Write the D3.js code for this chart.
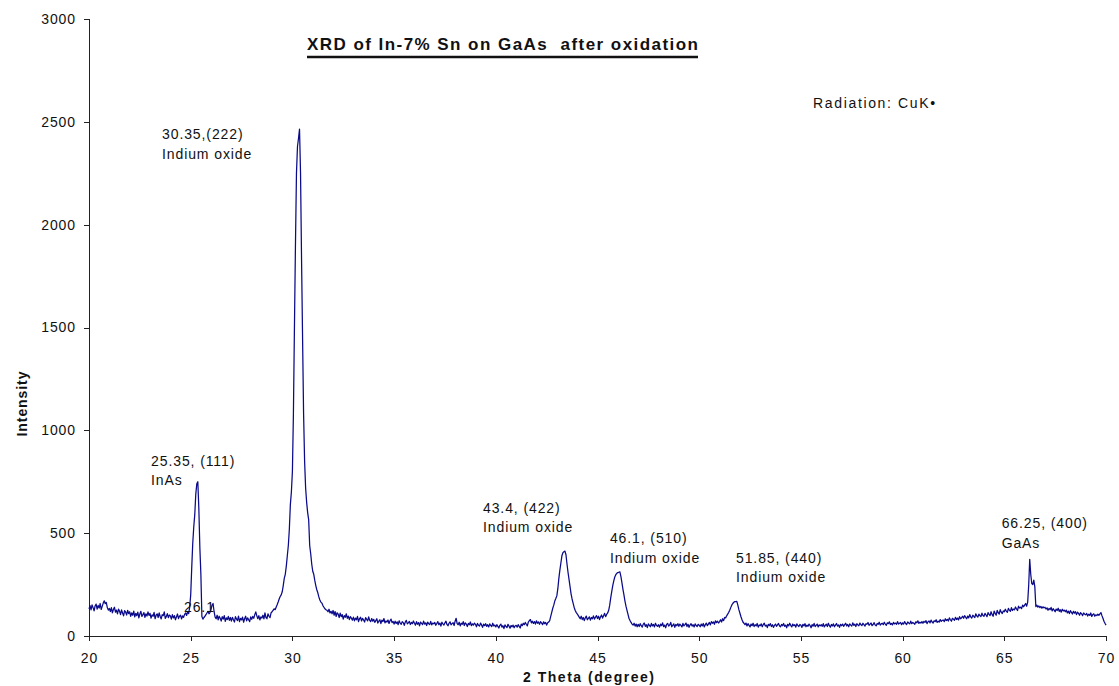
<!DOCTYPE html>
<html>
<head>
<meta charset="utf-8">
<script src="https://cdn.jsdelivr.net/npm/d3@7"></script>
<style>
  html, body { margin: 0; padding: 0; background: #fff; }
  svg { display: block; font-family: "Liberation Sans", Arial, sans-serif; }
</style>
</head>
<body>
<svg id="chart" width="1119" height="686"></svg>
<script>
// XRD scan: 2-theta from 20 to 70 degrees, one reading every 0.05 degree
const thetaStart = 20;
const thetaStep = 0.05;

// Counts, one row per degree (20 readings each), last value at 70.00
const intensity = [
  132,148,127,151,138,122,146,155,131,149,136,158,129,144,160,171,157,163,138,126, // 20
  134,119,138,113,129,140,116,126,108,131,121,104,127,112,98,123,117,102,125,109,  // 21
  118,96,112,101,121,93,110,99,116,88,107,120,95,104,114,91,108,97,117,100,        // 22
  110,87,103,96,115,84,101,108,90,112,95,83,104,99,117,86,94,109,89,102,           // 23
  97,82,104,88,99,79,93,107,85,96,101,83,98,91,105,112,100,118,109,140,            // 24
  200,330,450,530,590,690,740,750,620,430,300,95,82,90,96,104,112,120,108,115,     // 25
  130,150,158,118,92,84,101,78,96,86,73,94,82,99,71,88,80,95,76,90,                // 26
  72,91,79,68,94,83,75,97,70,86,78,92,67,84,96,74,88,79,70,93,                     // 27
  81,95,86,104,117,98,84,99,78,93,87,101,83,112,90,84,108,96,89,112,               // 28
  118,125,132,128,140,152,165,180,192,200,215,245,280,300,340,390,440,520,640,700, // 29
  800,1080,1500,1900,2250,2380,2420,2465,2250,1830,1450,1080,850,720,650,600,565,440,400,350, // 30
  315,300,270,245,225,210,190,175,165,160,148,140,132,128,125,118,130,112,120,108, // 31
  124,101,119,95,113,106,90,111,94,104,82,99,91,108,86,97,80,94,87,77,             // 32
  92,74,87,79,95,70,84,91,73,86,78,68,89,81,74,93,76,70,85,72,                     // 33
  81,66,75,84,63,72,79,60,77,70,85,64,73,68,78,61,74,82,65,71,                     // 34
  58,72,61,69,55,74,63,57,70,65,52,68,76,59,64,71,56,66,60,73,                     // 35
  62,53,70,57,65,49,68,61,55,72,58,64,51,67,60,56,71,54,63,59,                     // 36
  66,52,61,70,55,63,48,67,59,53,64,72,56,50,62,69,54,60,65,51,                     // 37
  72,86,60,55,67,49,62,57,70,51,64,58,46,61,55,68,50,59,53,63,                     // 38
  57,45,61,52,48,63,54,42,58,50,60,47,55,44,59,51,46,62,49,53,                     // 39
  44,55,47,39,52,58,43,50,36,54,46,41,57,48,38,51,45,53,40,49,                     // 40
  52,43,55,47,39,58,50,62,55,66,57,49,68,75,80,64,72,61,70,58,                     // 41
  74,62,68,57,70,63,55,69,60,66,53,64,68,75,95,115,135,150,170,182,                // 42
  195,230,280,320,355,390,405,410,413,395,350,310,275,240,205,180,160,140,125,115, // 43
  108,100,92,84,96,80,90,75,88,97,79,86,93,77,90,84,98,82,91,99,                   // 44
  85,96,80,93,102,87,99,110,94,105,112,125,150,185,216,245,268,287,298,305,        // 45
  308,310,312,290,260,228,200,170,145,125,105,85,75,66,58,53,62,48,58,45,          // 46
  57,46,60,50,43,58,63,47,55,41,59,52,45,61,49,56,44,62,51,47,                     // 47
  55,43,58,50,64,46,53,40,57,61,48,54,66,45,52,59,42,56,50,60,                     // 48
  47,58,52,44,61,49,55,63,46,57,42,53,60,48,55,44,59,51,46,57,                     // 49
  52,45,58,49,61,44,55,63,50,58,66,54,70,62,68,57,74,65,72,63,                     // 50
  70,79,68,84,75,90,88,98,106,115,125,138,150,158,164,167,167,168,150,128,         // 51
  112,95,80,68,62,55,63,49,60,52,44,58,50,62,46,55,49,61,43,54,                    // 52
  50,59,45,56,62,48,53,41,57,51,60,46,55,42,52,58,47,54,61,49,                     // 53
  45,56,50,61,47,53,40,57,49,62,52,44,58,50,55,43,59,51,46,56,                     // 54
  52,42,57,49,60,45,53,47,58,51,40,55,48,61,46,52,58,44,54,49,                     // 55
  55,47,60,44,52,57,46,62,50,43,56,49,59,45,53,61,48,54,42,57,                     // 56
  50,58,47,55,62,49,56,45,59,53,48,64,52,57,46,60,54,50,63,55,                     // 57
  51,62,55,48,60,57,66,52,58,63,50,56,65,54,49,61,57,67,53,59,                     // 58
  62,55,67,58,52,64,60,69,56,61,54,66,59,63,57,70,58,62,66,55,                     // 59
  64,58,70,61,56,68,63,59,72,60,66,62,57,69,64,74,61,67,63,70,                     // 60
  62,71,66,75,60,69,73,64,77,68,63,74,70,79,66,72,68,80,71,76,                     // 61
  78,70,84,75,81,73,88,79,72,86,82,76,91,80,87,78,94,84,89,96,                     // 62
  86,99,91,84,97,88,104,93,87,101,95,90,108,97,92,106,99,94,111,100,               // 63
  96,110,102,94,114,105,99,118,104,96,121,110,101,125,113,107,128,116,109,122,     // 64
  118,130,121,115,134,126,120,138,124,131,127,141,132,124,145,136,140,133,150,142, // 65
  150,158,145,165,248,373,300,255,250,272,240,143,150,140,146,138,144,135,142,137, // 66
  140,131,137,125,134,128,139,122,133,126,118,131,124,135,120,128,116,130,122,126, // 67
  118,126,112,121,109,123,115,107,120,111,118,104,116,110,101,114,108,99,112,106,  // 68
  103,110,97,106,100,112,95,104,108,96,103,99,106,101,107,114,99,86,72,62,         // 69
  53                                                                               // 70
];

const xTicks = [20, 25, 30, 35, 40, 45, 50, 55, 60, 65, 70];
const yTicks = [0, 500, 1000, 1500, 2000, 2500, 3000];

// Peak annotations, anchored in data units (2-theta, counts) at the first line's baseline
const peakLabels = [
  { theta: 23.59, counts: 2416, lines: ["30.35,(222)", "Indium oxide"] },
  { theta: 23.05, counts: 827,  lines: ["25.35, (111)", "InAs"] },
  { theta: 24.67, counts: 119,  lines: ["26.1"] },
  { theta: 39.37, counts: 600,  lines: ["43.4, (422)", "Indium oxide"] },
  { theta: 45.61, counts: 451,  lines: ["46.1, (510)", "Indium oxide"] },
  { theta: 51.81, counts: 356,  lines: ["51.85, (440)", "Indium oxide"] },
  { theta: 64.87, counts: 524,  lines: ["66.25, (400)", "GaAs"] }
];
const radiationNote = { theta: 55.6, counts: 2567, text: "Radiation: CuK\u2022" };

const titleText = "XRD of In-7% Sn on GaAs  after oxidation";
const xTitle = "2 Theta (degree)";
const yTitle = "Intensity";

// ---- drawing ----
const svg = d3.select("#chart");
const plotLeft = 89, plotRight = 1106, plotTop = 19, plotBottom = 636;

const x = d3.scaleLinear().domain([20, 70]).range([plotLeft, plotRight]);
const y = d3.scaleLinear().domain([0, 3000]).range([plotBottom, plotTop]);

const points = intensity.map((v, i) => [thetaStart + i * thetaStep, v]);

// axes
const xAxis = svg.append("g")
  .attr("transform", `translate(0,${plotBottom})`)
  .call(d3.axisBottom(x).tickValues(xTicks).tickSize(5).tickPadding(12).tickFormat(d3.format("d")));
const yAxis = svg.append("g")
  .attr("transform", `translate(${plotLeft},0)`)
  .call(d3.axisLeft(y).tickValues(yTicks).tickSize(5).tickPadding(8).tickFormat(d3.format("d")));

[xAxis, yAxis].forEach(g => {
  g.select(".domain").attr("stroke", "#222").attr("shape-rendering", "crispEdges");
  g.selectAll(".tick line").attr("stroke", "#222").attr("shape-rendering", "crispEdges");
  g.selectAll(".tick text")
    .attr("fill", "#111")
    .style("font-family", "'Liberation Sans', Arial, sans-serif")
    .style("font-size", "14px")
    .style("letter-spacing", "0.9px");
});

// diffraction pattern
svg.append("path")
  .datum(points)
  .attr("fill", "none")
  .attr("stroke", "#0a0a8a")
  .attr("stroke-width", 1.25)
  .attr("stroke-linejoin", "round")
  .attr("d", d3.line().x(d => x(d[0])).y(d => y(d[1])));

// peak labels
const lbl = svg.append("g")
  .attr("fill", "#111")
  .style("font-size", "14px")
  .style("letter-spacing", "0.9px");
peakLabels.forEach(p => {
  const t = lbl.append("text").attr("x", x(p.theta)).attr("y", y(p.counts));
  p.lines.forEach((line, i) => {
    t.append("tspan").attr("x", x(p.theta)).attr("dy", i === 0 ? 0 : 19.5).text(line);
  });
});
lbl.append("text")
  .attr("x", x(radiationNote.theta))
  .attr("y", y(radiationNote.counts))
  .attr("textLength", 123).attr("lengthAdjust", "spacing")
  .text(radiationNote.text);

// title with underline (double space kept)
const title = svg.append("text")
  .attr("x", 502.5).attr("y", 50)
  .attr("text-anchor", "middle")
  .attr("xml:space", "preserve")
  .style("white-space", "pre")
  .attr("textLength", 391).attr("lengthAdjust", "spacing")
  .style("font-size", "17px").style("font-weight", "bold")
  .attr("fill", "#111")
  .text(titleText);
const tb = title.node().getBBox();
svg.append("line")
  .attr("x1", tb.x).attr("x2", tb.x + tb.width)
  .attr("y1", 57).attr("y2", 57)
  .attr("stroke", "#111").attr("stroke-width", 2.6);

// axis titles
svg.append("text")
  .attr("x", 588.5).attr("y", 682)
  .attr("text-anchor", "middle")
  .attr("textLength", 131).attr("lengthAdjust", "spacing")
  .style("font-size", "14px").style("font-weight", "bold")
  .attr("fill", "#111")
  .text(xTitle);
svg.append("text")
  .attr("transform", "translate(27,404) rotate(-90)")
  .attr("text-anchor", "middle")
  .attr("textLength", 65).attr("lengthAdjust", "spacing")
  .style("font-size", "14px").style("font-weight", "bold")
  .attr("fill", "#111")
  .text(yTitle);
</script>
</body>
</html>
